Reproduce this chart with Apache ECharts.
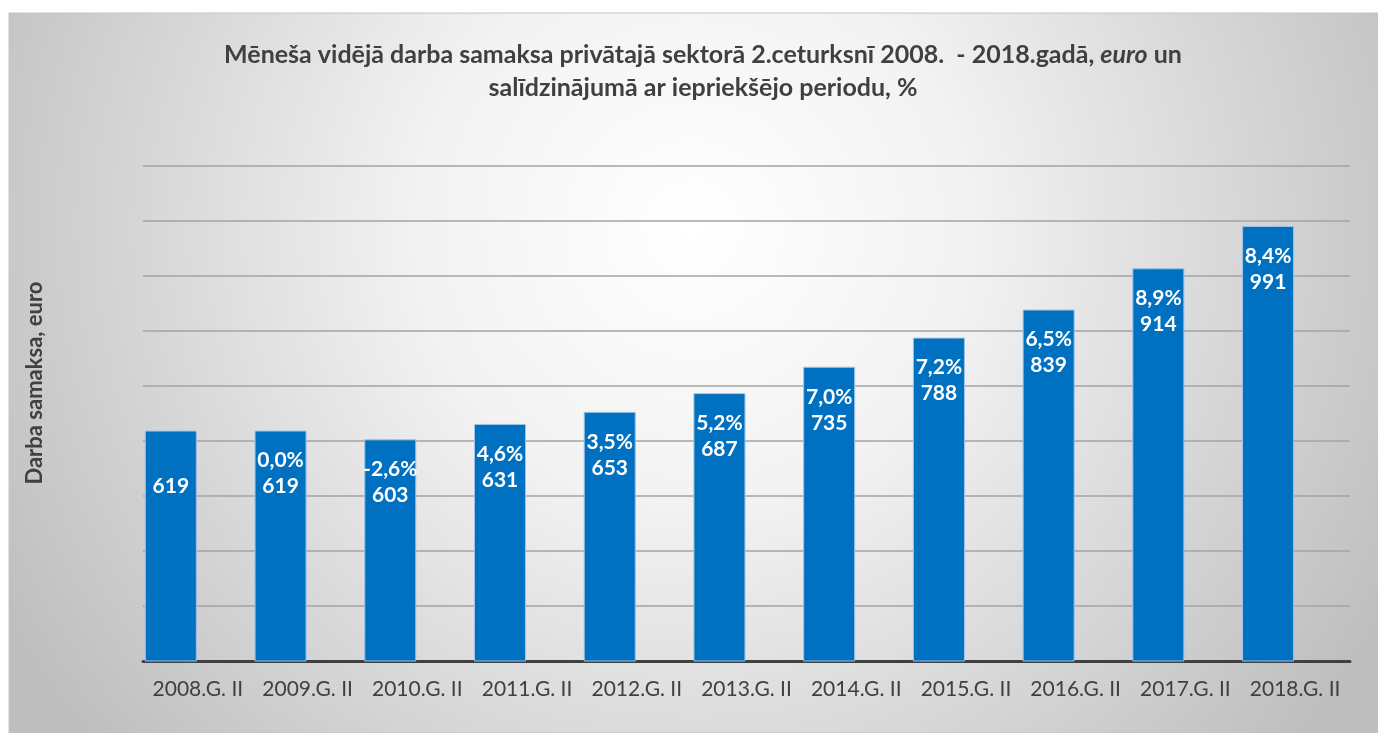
<!DOCTYPE html>
<html>
<head>
<meta charset="utf-8">
<script src="https://cdn.jsdelivr.net/npm/echarts@6/dist/echarts.min.js"></script>
<style>
  html, body { margin: 0; padding: 0; background: #fff; }
  #chart { width: 1378px; height: 733px; }
</style>
</head>
<body>
<div id="chart"></div>
<script>
// dati
const periods = ["2008.G. II", "2009.G. II", "2010.G. II", "2011.G. II", "2012.G. II", "2013.G. II",
  "2014.G. II", "2015.G. II", "2016.G. II", "2017.G. II", "2018.G. II"];
const wages = [619, 619, 603, 631, 653, 687, 735, 788, 839, 914, 991];
const changePct = [null, 0.0, -2.6, 4.6, 3.5, 5.2, 7.0, 7.2, 6.5, 8.9, 8.4];

const FONT = "Lato, 'Noto Sans', sans-serif";
const TXT = "#404040";

const chart = echarts.init(document.getElementById("chart"));

function fmtPct(v) {
  if (v === null || v === undefined) return "";
  return v.toFixed(1).replace(".", ",") + "%";
}

const option = {
  backgroundColor: "#fff",
  animation: false,
  graphic: [
    // fons ar radiālu gradientu
    {
      type: "rect",
      z: -10,
      silent: true,
      shape: { x: 9, y: 13, width: 1369, height: 720 },
      style: {
        fill: new echarts.graphic.RadialGradient(0.5, 0.3, 1.1, [
          { offset: 0, color: "#ffffff" },
          { offset: 0.35, color: "#f2f2f2" },
          { offset: 1, color: "#bebebe" },
        ]),
        stroke: "#c4c4c4",
        lineWidth: 1,
      },
    },
    // ass nosaukums
    {
      type: "text",
      x: 35,
      y: 383,
      rotation: Math.PI / 2,
      silent: true,
      style: {
        text: "Darba samaksa, euro",
        fill: TXT,
        font: "bold 22px " + FONT,
        align: "center",
        verticalAlign: "middle",
      },
    },
  ],
  title: {
    left: 698,
    top: 33,
    textAlign: "center",
    text:
      "{b|Mēneša vidējā darba samaksa privātajā sektorā 2.ceturksnī 2008.  - 2018.gadā, }{i|euro}{b| un}\n" +
      "{b|salīdzinājumā ar iepriekšējo periodu, %}",
    textStyle: {
      rich: {
        b: { fontFamily: FONT, fontSize: 25, fontWeight: "bold", color: TXT, lineHeight: 33 },
        i: { fontFamily: FONT, fontSize: 25, fontWeight: "bold", fontStyle: "italic", color: TXT, lineHeight: 33 },
      },
    },
  },
  grid: { left: 143, right: 28, top: 166, bottom: 72 },
  xAxis: {
    type: "category",
    data: periods,
    axisLine: { lineStyle: { color: "#404040", width: 3 } },
    axisTick: { show: false },
    axisLabel: { color: TXT, fontFamily: FONT, fontSize: 21, margin: 18, interval: 0, hideOverlap: false },
  },
  yAxis: {
    type: "value",
    min: 200,
    max: 1100,
    interval: 100,
    axisLabel: { show: false },
    axisLine: { show: false },
    axisTick: { show: false },
    splitLine: { lineStyle: { color: "#a3a3a3", width: 1.5 } },
  },
  series: [
    {
      name: "Darba samaksa, euro",
      type: "bar",
      data: wages,
      barWidth: 52,
      barGap: "4%",
      clip: true,
      itemStyle: { color: "#0070C0", borderColor: "#9dc3e6", borderWidth: 1 },
      label: {
        show: true,
        position: "insideTop",
        distance: 17,
        color: "#fff",
        fontFamily: FONT,
        fontSize: 21,
        fontWeight: "bold",
        lineHeight: 26,
        formatter: (p) => fmtPct(changePct[p.dataIndex]) + "\n" + p.value,
      },
    },
    {
      name: "Pārmaiņas, %",
      type: "bar",
      data: changePct,
      barWidth: 52,
      clip: true,
      itemStyle: { color: "#ED7D31" },
    },
  ],
};

chart.setOption(option);
</script>
</body>
</html>
